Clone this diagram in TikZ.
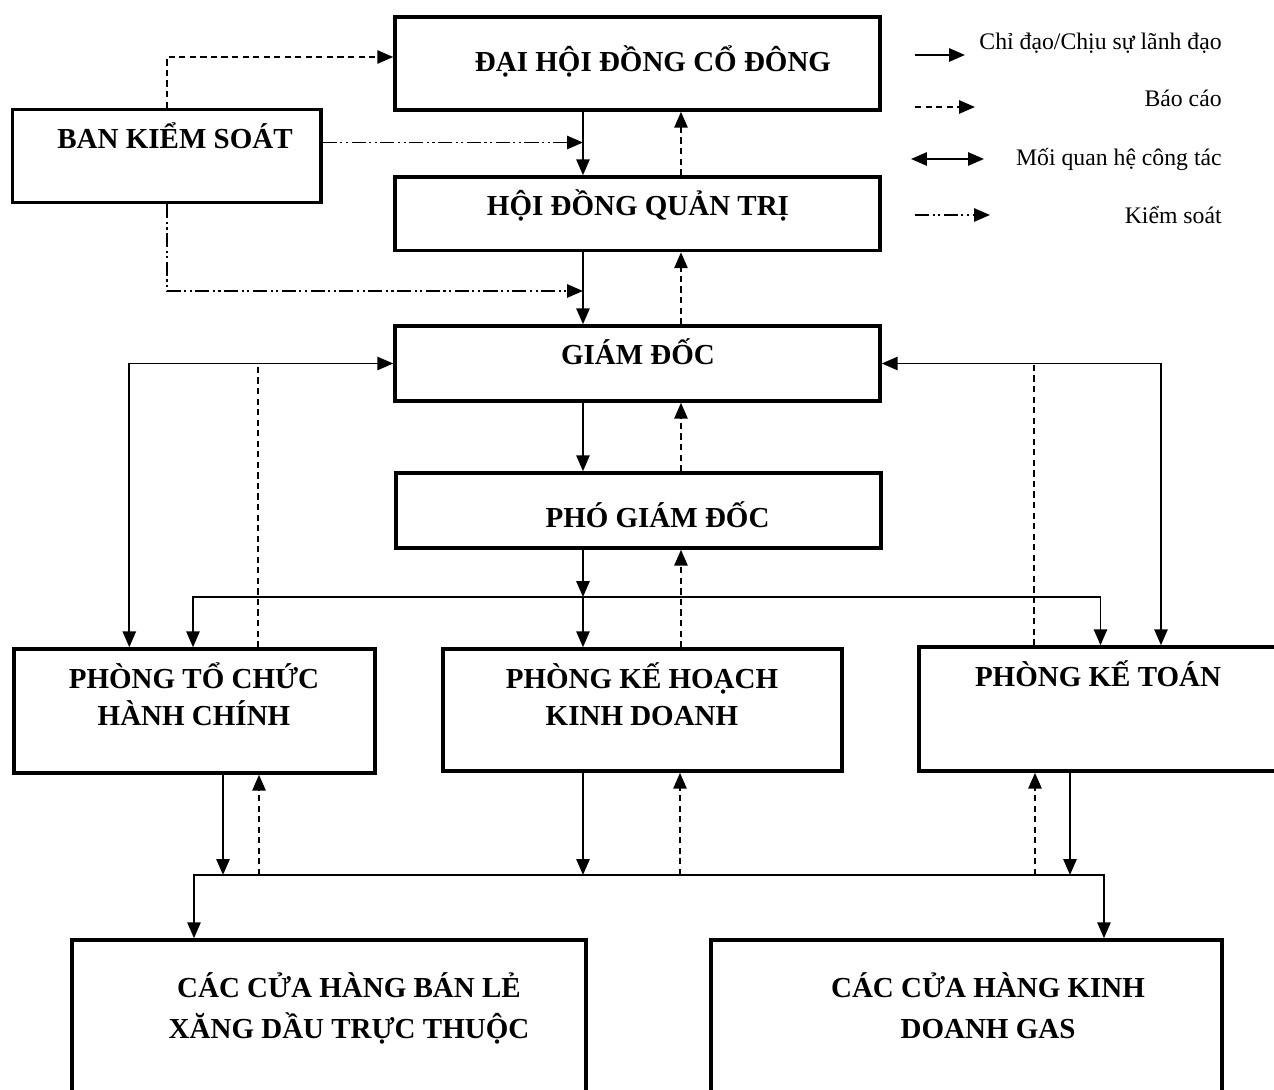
\documentclass[tikz,border=0pt]{standalone}
\usepackage{fontspec}
\setmainfont{Liberation Serif}
\usetikzlibrary{arrows.meta}

\begin{document}
\begin{tikzpicture}[scale=0.2,
    >={Triangle[length=9pt,width=7.5pt]},
    box/.style 2 args={draw, line width=2pt, minimum width=#1, minimum height=#2, inner sep=0pt},
    boxtext/.style={anchor=base, align=center, inner sep=0pt, font=\bfseries\fontsize{16.5}{21.6}\selectfont},
    legtext/.style={anchor=base east, inner sep=0pt, font=\fontsize{13.5}{16}\selectfont},
    lead/.style={->, line width=1.1pt},
    report/.style={->, line width=1.1pt, dash pattern=on 3.5pt off 2.5pt},
    dashline/.style={line width=1.1pt, dash pattern=on 3.5pt off 2.5pt},
    rel/.style={<->, line width=1.1pt},
    ctrl/.style={->, line width=1.1pt, dash pattern=on 8pt off 2pt on 1.2pt off 2pt on 1.2pt off 2pt}]
  \useasboundingbox (0,0) rectangle (127.4,-109);
  \clip (0,0) rectangle (127.4,-109);

  % boxes
  \node[box={9.7cm}{1.86cm}] (dhdcd) at (63.75,-6.35) {};
  \node[box={6.17cm}{1.86cm}] (bks) at (16.675,-15.6) {};
  \node[box={9.7cm}{1.47cm}] (hdqt) at (63.75,-21.375) {};
  \node[box={9.7cm}{1.5cm}] (gd) at (63.75,-36.35) {};
  \node[box={9.7cm}{1.5cm}] (pgd) at (63.85,-51.05) {};
  \node[box={7.22cm}{2.48cm}] (ptc) at (19.45,-71.1) {};
  \node[box={7.98cm}{2.44cm}] (pkh) at (64.25,-71.0) {};
  \node[box={7.62cm}{2.48cm}] (pkt) at (110.95,-70.9) {};
  \node[box={10.28cm}{3.8cm}] (st1) at (32.9,-103.5) {};
  \node[box={10.22cm}{3.8cm}] (st2) at (96.65,-103.5) {};

  % texts
  \node[boxtext] (t-dhdcd) at (65.3,-7.2) {ĐẠI HỘI ĐỒNG CỔ ĐÔNG};
  \node[boxtext] (t-bks) at (17.5,-14.9) {BAN KIỂM SOÁT};
  \node[boxtext] (t-hdqt) at (63.8,-21.6) {HỘI ĐỒNG QUẢN TRỊ};
  \node[boxtext] (t-gd) at (63.8,-36.5) {GIÁM ĐỐC};
  \node[boxtext] (t-pgd) at (65.75,-52.8) {PHÓ GIÁM ĐỐC};
  \node[boxtext] (t-ptc) at (19.4,-72.6) {PHÒNG TỔ CHỨC\\HÀNH CHÍNH};
  \node[boxtext] (t-pkh) at (64.2,-72.6) {PHÒNG KẾ HOẠCH\\KINH DOANH};
  \node[boxtext] (t-pkt) at (109.8,-68.7) {PHÒNG KẾ TOÁN};
  \node[boxtext] (t-st1) at (34.9,-103.8) {CÁC CỬA HÀNG BÁN LẺ\\[1.7pt]XĂNG DẦU TRỰC THUỘC};
  \node[boxtext] (t-st2) at (98.8,-103.8) {CÁC CỬA HÀNG KINH\\[1.7pt]DOANH GAS};

  % helper positions
  \coordinate (trunk) at (58.3,0);
  \coordinate (back) at (68.1,0);
  \coordinate (bksup) at (0,-5.7);
  \coordinate (ctl1) at (0,-14.25);
  \coordinate (ctl2) at (0,-29.1);
  \coordinate (busA) at (0,-59.7);
  \coordinate (busB) at (0,-87.5);
  \coordinate (gl1) at (12.93,0);
  \coordinate (gl2) at (25.8,0);
  \coordinate (gr1) at (116.1,0);
  \coordinate (gr2) at (103.4,0);
  \coordinate (la) at (19.3,0);
  \coordinate (ra) at (110.05,0);
  \coordinate (lb) at (19.4,0);
  \coordinate (rb) at (110.4,0);
  \coordinate (pd1) at (22.3,0);
  \coordinate (pu1) at (25.9,0);
  \coordinate (ku) at (68.0,0);
  \coordinate (td) at (103.5,0);
  \coordinate (tv) at (107.0,0);

  % ban kiem soat
  \draw[report] (bks.north) |- (dhdcd.west |- bksup);
  \draw[ctrl] (bks.east |- ctl1) -- (trunk |- ctl1);
  \draw[ctrl] (bks.south) |- (trunk |- ctl2);

  % chain of command
  \draw[lead] (trunk |- dhdcd.south) -- (trunk |- hdqt.north);
  \draw[lead] (trunk |- hdqt.south) -- (trunk |- gd.north);
  \draw[lead] (trunk |- gd.south) -- (trunk |- pgd.north);
  \draw[lead] (trunk |- pgd.south) -- (trunk |- busA);
  \draw[lead] (trunk |- busA) -- (trunk |- pkh.north);
  \draw[report] (back |- hdqt.north) -- (back |- dhdcd.south);
  \draw[report] (back |- gd.north) -- (back |- hdqt.south);
  \draw[report] (back |- pgd.north) -- (back |- gd.south);
  \draw[report] (back |- pkh.north) -- (back |- pgd.south);

  % giam doc - phong ban
  \draw[rel] (gd.west) -| (gl1 |- ptc.north);
  \draw[dashline] (gl2 |- ptc.north) -- (gl2 |- gd.west);
  \draw[rel] (gd.east) -| (gr1 |- pkt.north);
  \draw[dashline] (gr2 |- pkt.north) -- (gr2 |- gd.east);
  \draw[rel] (la |- ptc.north) |- (ra |- busA) -- (ra |- pkt.north);

  % cua hang
  \draw[rel] (lb |- st1.north) |- (rb |- busB) -- (rb |- st2.north);
  \draw[lead] (pd1 |- ptc.south) -- (pd1 |- busB);
  \draw[report] (pu1 |- busB) -- (pu1 |- ptc.south);
  \draw[lead] (trunk |- pkh.south) -- (trunk |- busB);
  \draw[report] (ku |- busB) -- (ku |- pkh.south);
  \draw[report] (td |- busB) -- (td |- pkt.south);
  \draw[lead] (tv |- pkt.south) -- (tv |- busB);

  % legend
  \coordinate (k1a) at (91.5,-5.5);
  \coordinate (k1b) at (96.5,-5.5);
  \coordinate (k2a) at (91.5,-10.7);
  \coordinate (k2b) at (97.5,-10.7);
  \coordinate (k3a) at (91.1,-15.9);
  \coordinate (k3b) at (98.4,-15.9);
  \coordinate (k4a) at (91.5,-21.5);
  \coordinate (k4b) at (99.0,-21.5);
  \draw[lead] (k1a) -- (k1b);
  \draw[report] (k2a) -- (k2b);
  \draw[rel] (k3a) -- (k3b);
  \draw[ctrl] (k4a) -- (k4b);
  \node[legtext] (k1) at (122.2,-5.0) {Chỉ đạo/Chịu sự lãnh đạo};
  \node[legtext] (k2) at (122.2,-10.7) {Báo cáo};
  \node[legtext] (k3) at (122.2,-16.6) {Mối quan hệ công tác};
  \node[legtext] (k4) at (122.2,-22.4) {Kiểm soát};
\end{tikzpicture}
\end{document}
